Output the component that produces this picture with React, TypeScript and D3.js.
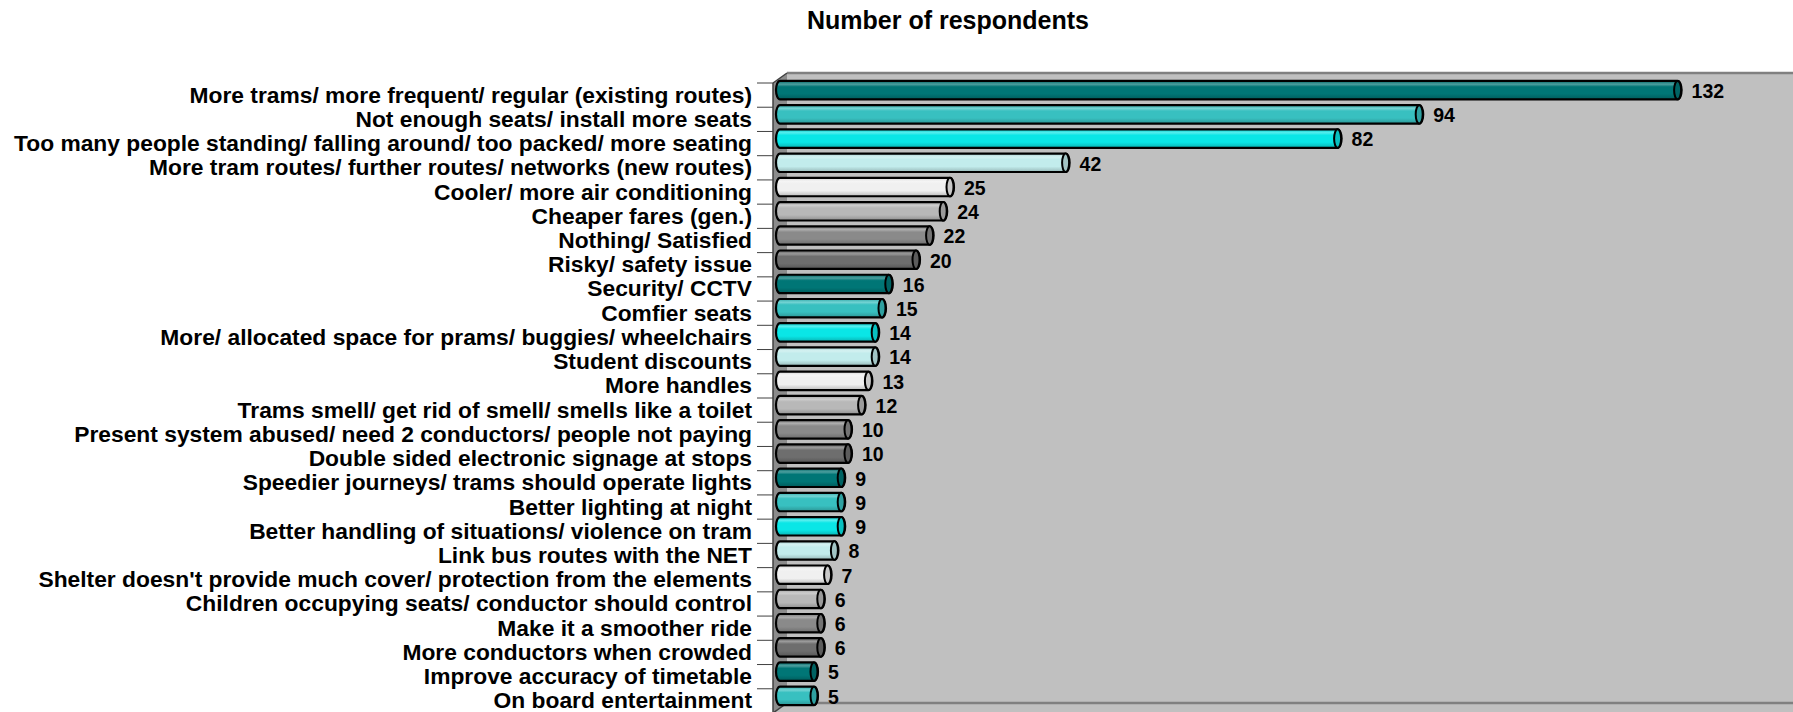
import React from "react";
import * as d3 from "d3";

const categories = [
  "More trams/ more frequent/ regular (existing routes)",
  "Not enough seats/ install more seats",
  "Too many people standing/ falling around/ too packed/ more seating",
  "More tram routes/ further routes/ networks (new routes)",
  "Cooler/ more air conditioning",
  "Cheaper fares (gen.)",
  "Nothing/ Satisfied",
  "Risky/ safety issue",
  "Security/ CCTV",
  "Comfier seats",
  "More/ allocated space for prams/ buggies/ wheelchairs",
  "Student discounts",
  "More handles",
  "Trams smell/ get rid of smell/ smells like a toilet",
  "Present system abused/ need 2 conductors/ people not paying",
  "Double sided electronic signage at stops",
  "Speedier journeys/ trams should operate lights",
  "Better lighting at night",
  "Better handling of situations/ violence on tram",
  "Link bus routes with the NET",
  "Shelter doesn't provide much cover/ protection from the elements",
  "Children occupying seats/ conductor should control",
  "Make it a smoother ride",
  "More conductors when crowded",
  "Improve accuracy of timetable",
  "On board entertainment",
];

const values = [132, 94, 82, 42, 25, 24, 22, 20, 16, 15, 14, 14, 13, 12, 10, 10, 9, 9, 9, 8, 7, 6, 6, 6, 5, 5];

const palette = ["#007676", "#38c0c0", "#0ae6e6", "#c2ecec", "#f0f0f0", "#b8b8b8", "#8a8a8a", "#6e6e6e"];

const title = "Number of respondents";

const W = 1793;
const H = 712;

export default function App() {
  const frontLeft = 773;
  const frontTop = 83;
  const frontBottom = 713;
  const depthX = 14;
  const depthY = 10;

  const x = d3.scaleLinear().domain([0, 150]).range([frontLeft, frontLeft + 1020]);
  const y = d3
    .scaleBand<string>()
    .domain(categories)
    .range([frontTop, frontBottom])
    .paddingInner(0.24)
    .paddingOuter(0.12);

  const step = y.step();
  const bh = y.bandwidth();
  const midDx = depthX / 2;
  const midDy = -depthY / 2;
  const rx = 4;
  const ry = bh / 2;

  const backLeft = frontLeft + depthX;
  const backTop = frontTop - depthY;
  const backBottom = frontBottom - depthY;

  return (
    <svg
      width={W}
      height={H}
      style={{ position: "absolute", left: 0, top: 0, background: "#ffffff" }}
      fontFamily="'Liberation Sans', Arial, sans-serif"
    >
      <defs>
        {palette.map((c, i) => {
          const base = d3.color(c)!;
          const hi = d3.interpolateRgb(c, "#ffffff")(0.3);
          const dk = (base as any).darker(0.7).formatHex();
          const dk2 = (base as any).darker(0.35).formatHex();
          return (
            <linearGradient key={i} id={`g${i}`} x1="0" y1="0" x2="0" y2="1">
              <stop offset="0" stopColor={dk2} />
              <stop offset="0.18" stopColor={hi} />
              <stop offset="0.32" stopColor={c} />
              <stop offset="0.7" stopColor={c} />
              <stop offset="1" stopColor={dk} />
            </linearGradient>
          );
        })}
      </defs>

      <text
        x={948}
        y={20}
        textAnchor="middle"
        dy="0.35em"
        fontWeight="bold"
        fontSize={25}
        fill="#000"
      >
        {title}
      </text>

      {/* back wall */}
      <rect x={backLeft} y={backTop} width={W - backLeft + 20} height={backBottom - backTop} fill="#c0c0c0" />
      {/* floor */}
      <polygon
        points={`${frontLeft},${frontBottom} ${backLeft},${backBottom} ${W + 20},${backBottom} ${W + 20},${frontBottom}`}
        fill="#c0c0c0"
      />
      {/* left wall */}
      <polygon
        points={`${frontLeft},${frontTop} ${backLeft},${backTop} ${backLeft},${backBottom} ${frontLeft},${frontBottom}`}
        fill="#8c8c8c"
      />
      <line x1={backLeft} y1={backTop} x2={W + 20} y2={backTop} stroke="#808080" strokeWidth={2.5} />
      <line x1={backLeft} y1={backBottom} x2={W + 20} y2={backBottom} stroke="#808080" strokeWidth={2.5} />
      <line x1={frontLeft} y1={frontTop} x2={backLeft} y2={backTop} stroke="#404040" strokeWidth={1.5} />
      <line x1={frontLeft} y1={frontBottom} x2={backLeft} y2={backBottom} stroke="#404040" strokeWidth={1.5} />
      <line x1={frontLeft} y1={frontTop} x2={frontLeft} y2={frontBottom} stroke="#404040" strokeWidth={1.5} />

      {/* category ticks */}
      {d3.range(categories.length + 1).map((k) => (
        <line
          key={k}
          x1={757}
          x2={frontLeft}
          y1={frontTop + k * step}
          y2={frontTop + k * step}
          stroke="#404040"
          strokeWidth={1}
        />
      ))}

      {/* category labels */}
      {categories.map((c) => (
        <text
          key={c}
          x={752}
          y={(y(c) ?? 0) + bh / 2 - 0.5}
          dy="0.35em"
          textAnchor="end"
          fontWeight="bold"
          fontSize={22.8}
          fill="#000"
        >
          {c}
        </text>
      ))}

      {/* bars */}
      {categories.map((c, i) => {
        const v = values[i];
        const x0 = x(0) + midDx;
        const x1 = x(v) + midDx;
        const yTop = (y(c) ?? 0) + midDy;
        const yBot = yTop + bh;
        const cy = yTop + bh / 2;
        const ci = i % palette.length;
        const capFill = (d3.color(palette[ci]) as any).darker(0.5).formatHex();
        const path = `M${x0},${yTop} L${x1},${yTop} A${rx},${ry} 0 0 1 ${x1},${yBot} L${x0},${yBot} A${rx},${ry} 0 0 1 ${x0},${yTop} Z`;
        return (
          <g key={c}>
            <path d={path} fill={`url(#g${ci})`} stroke="#000" strokeWidth={2.2} />
            <ellipse cx={x1} cy={cy} rx={rx - 0.5} ry={ry} fill={capFill} stroke="#000" strokeWidth={2} />
            <text
              x={x1 + 14}
              y={cy + 1}
              dy="0.35em"
              fontWeight="bold"
              fontSize={19.5}
              fill="#000"
            >
              {v}
            </text>
          </g>
        );
      })}
    </svg>
  );
}
